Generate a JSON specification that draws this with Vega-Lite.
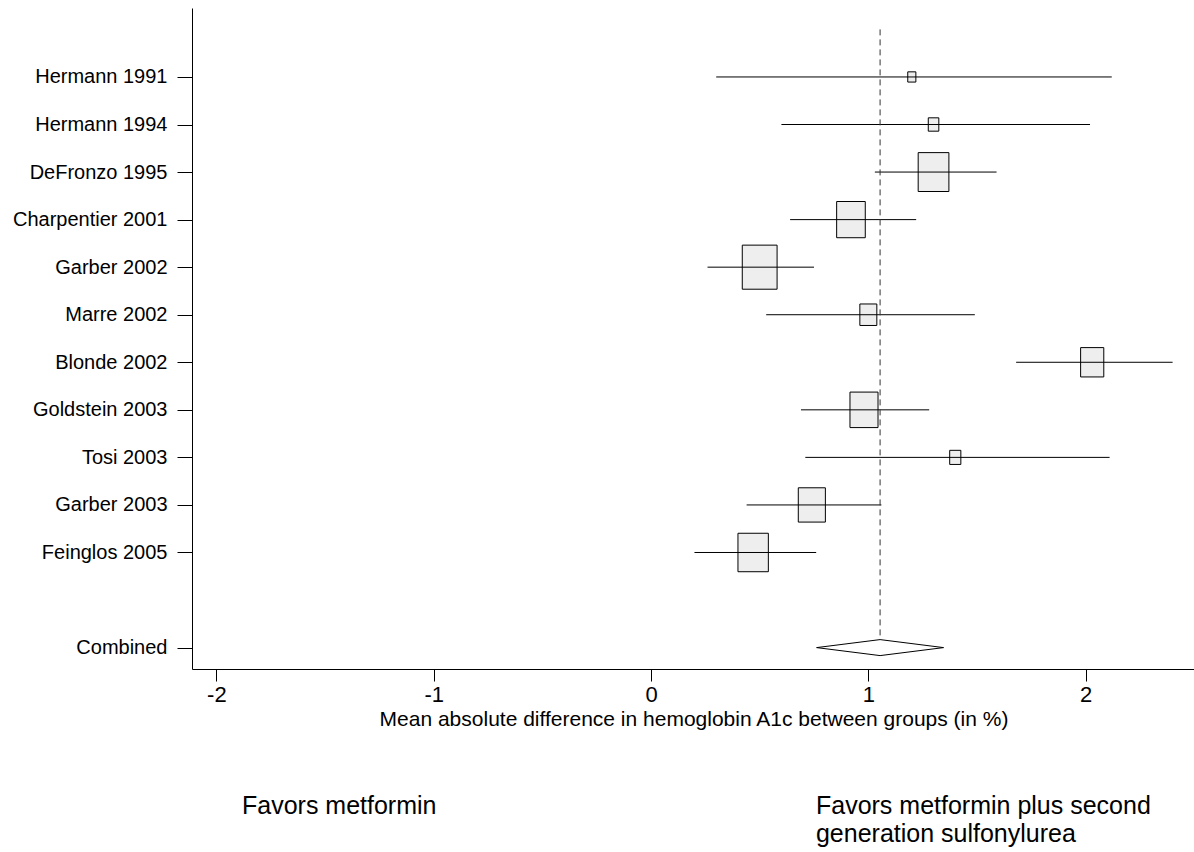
{
  "$schema": "https://vega.github.io/schema/vega-lite/v6.json",
  "padding": {"left": 12, "top": 8, "right": 0, "bottom": 0},
  "config": {
    "font": "Liberation Sans",
    "view": {"stroke": null},
    "axis": {"grid": false, "domainColor": "#000000", "tickColor": "#000000", "labelColor": "#000000", "titleColor": "#000000", "titleFontWeight": "normal"}
  },
  "spacing": 25,
  "vconcat": [
    {
      "width": 1003,
      "height": 661,
      "data": {"values": [
        {"study": "Hermann 1991", "est": 1.20, "lo": 0.30, "hi": 2.12, "weight": 1.0},
        {"study": "Hermann 1994", "est": 1.30, "lo": 0.60, "hi": 2.02, "weight": 1.7},
        {"study": "DeFronzo 1995", "est": 1.30, "lo": 1.03, "hi": 1.59, "weight": 14.4},
        {"study": "Charpentier 2001", "est": 0.92, "lo": 0.64, "hi": 1.22, "weight": 12.5},
        {"study": "Garber 2002", "est": 0.50, "lo": 0.26, "hi": 0.75, "weight": 18.5},
        {"study": "Marre 2002", "est": 1.00, "lo": 0.53, "hi": 1.49, "weight": 4.4},
        {"study": "Blonde 2002", "est": 2.03, "lo": 1.68, "hi": 2.40, "weight": 8.2},
        {"study": "Goldstein 2003", "est": 0.98, "lo": 0.69, "hi": 1.28, "weight": 12.0},
        {"study": "Tosi 2003", "est": 1.40, "lo": 0.71, "hi": 2.11, "weight": 1.9},
        {"study": "Garber 2003", "est": 0.74, "lo": 0.44, "hi": 1.06, "weight": 11.2},
        {"study": "Feinglos 2005", "est": 0.47, "lo": 0.20, "hi": 0.76, "weight": 14.1},
        {"study": "Combined", "est": 1.054, "lo": 0.76, "hi": 1.35, "weight": 100}
      ]},
      "encoding": {
        "y": {
          "field": "study", "type": "nominal",
          "scale": {"type": "point", "padding": 0.45, "domain": [" ", "Hermann 1991", "Hermann 1994", "DeFronzo 1995", "Charpentier 2001", "Garber 2002", "Marre 2002", "Blonde 2002", "Goldstein 2003", "Tosi 2003", "Garber 2003", "Feinglos 2005", "  ", "Combined"]},
          "axis": {"title": null, "values": ["Hermann 1991", "Hermann 1994", "DeFronzo 1995", "Charpentier 2001", "Garber 2002", "Marre 2002", "Blonde 2002", "Goldstein 2003", "Tosi 2003", "Garber 2003", "Feinglos 2005", "Combined"], "labelFontSize": 20, "tickSize": 15, "labelPadding": 10, "labelLimit": 0}
        }
      },
      "layer": [
        {
          "transform": [{"filter": "datum.study !== 'Combined'"}],
          "mark": {"type": "point", "shape": "M-0.79,-1L0.79,-1L0.79,1L-0.79,1Z", "filled": true, "fill": "#eeeeee", "stroke": "#000000", "strokeWidth": 1, "opacity": 1},
          "encoding": {
            "x": {"field": "est", "type": "quantitative", "scale": {"domain": [-2.112, 2.503], "nice": false, "zero": false},
                  "axis": {"title": "Mean absolute difference in hemoglobin A1c between groups (in %)", "values": [-2, -1, 0, 1, 2], "labelExpr": "'' + datum.value", "labelFontSize": 22, "tickSize": 12, "labelPadding": 3, "titleFontSize": 21, "titlePadding": 3}},
            "size": {"field": "weight", "type": "quantitative", "scale": {"domain": [0, 100], "range": [0, 10500]}, "legend": null}
          }
        },
        {
          "transform": [{"filter": "datum.study !== 'Combined'"}],
          "mark": {"type": "rule", "color": "#000000", "strokeWidth": 1},
          "encoding": {
            "x": {"field": "lo", "type": "quantitative"},
            "x2": {"field": "hi"}
          }
        },
        {
          "transform": [{"filter": "datum.study === 'Combined'"}],
          "mark": {"type": "rule", "color": "#333333", "strokeWidth": 1, "strokeDash": [6, 4], "y2Offset": -8},
          "encoding": {
            "x": {"field": "est", "type": "quantitative"},
            "y": {"datum": " "},
            "y2": {"field": "study"}
          }
        },
        {
          "transform": [{"filter": "datum.study === 'Combined'"}],
          "mark": {"type": "point", "shape": "M-1,0L0,-0.126L1,0L0,0.126Z", "size": 16129, "filled": true, "fill": "#ffffff", "stroke": "#000000", "strokeWidth": 1, "opacity": 1},
          "encoding": {
            "x": {"field": "est", "type": "quantitative"}
          }
        }
      ]
    },
    {
      "width": 1003,
      "height": 80,
      "data": {"values": [
        {"label": "Favors metformin", "at": -1.882},
        {"label": "Favors metformin plus second\ngeneration sulfonylurea", "at": 0.759}
      ]},
      "mark": {"type": "text", "align": "left", "baseline": "top", "fontSize": 25, "lineHeight": 28, "lineBreak": "\n", "color": "#000000"},
      "encoding": {
        "x": {"field": "at", "type": "quantitative", "scale": {"domain": [-2.112, 2.503], "nice": false, "zero": false}, "axis": null},
        "text": {"field": "label"}
      }
    }
  ]
}
